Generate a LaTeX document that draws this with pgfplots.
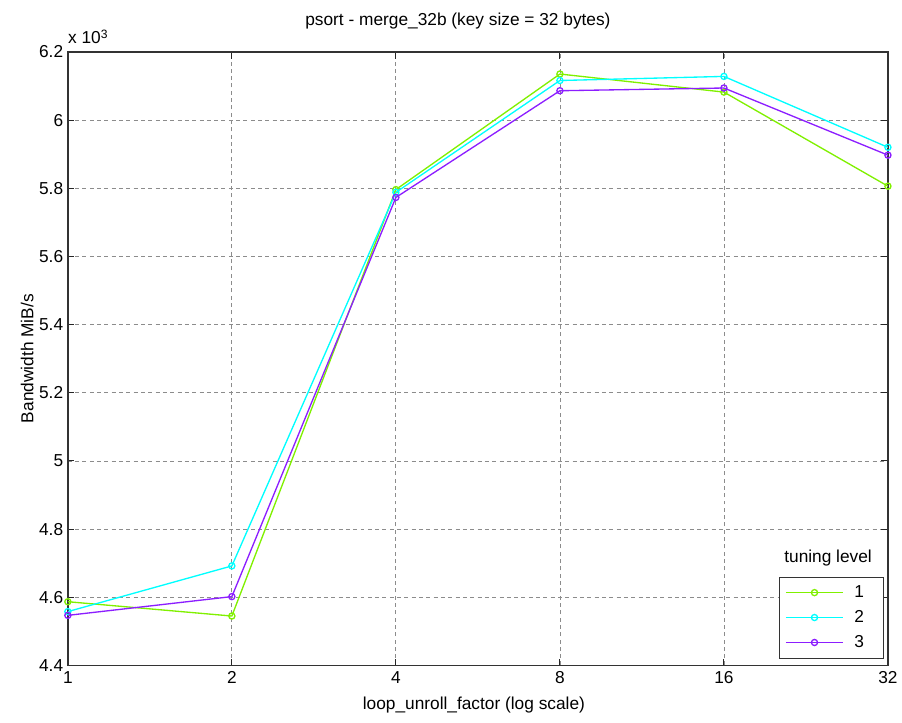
\documentclass[border=0pt]{standalone}
\usepackage{pgfplots}
\pgfplotsset{compat=1.18}
\usepackage{fontspec}
\setmainfont{Liberation Sans}
\definecolor{lgreen}{RGB}{128,240,0}
\definecolor{lcyan}{RGB}{0,255,255}
\definecolor{lpurple}{RGB}{140,30,255}
\newcommand{\fs}{\fontsize{13}{15.6}\selectfont}
\begin{document}
\begin{tikzpicture}
\path (-51pt,-42.75pt) rectangle (625.5pt,500.25pt);
\begin{axis}[
  at={(0,0)}, anchor=south west,
  scale only axis, width=616.5pt, height=461.25pt,
  clip mode=individual,
  xmode=log, log basis x=2, xmin=1, xmax=32,
  xtick={1,2,4,8,16,32}, xticklabels={1,2,4,8,16,32},
  ymin=4400, ymax=6200,
  ytick={4400,4600,4800,5000,5200,5400,5600,5800,6000,6200},
  yticklabels={4.4,4.6,4.8,5,5.2,5.4,5.6,5.8,6,6.2},
  every tick label/.append style={font=\fs},
  xticklabel style={yshift=-1pt},
  grid=major,
  major grid style={gray!90, dash pattern=on 3pt off 2.5pt, line width=0.6pt},
  axis line style={black!80, line width=1pt},
  tick style={black!85, line width=0.8pt},
  major tick length=5pt,
  tick align=inside,
  legend style={at={(rel axis cs:0.995,0.011)}, anchor=south east,
    draw=black!80, line width=0.8pt, font=\fs, row sep=4.2pt, column sep=6pt,
    inner xsep=4.5pt, inner ysep=4.5pt},
  legend cell align=left,
  legend image code/.code={\draw[mark repeat=2,mark phase=2,#1] plot coordinates {(0pt,0pt) (21.5pt,0pt) (43pt,0pt)};},
  every axis plot/.append style={line width=1pt, mark=o, mark size=2.3pt, mark options={solid}},
]
\addplot[color=lgreen] coordinates {(1,4587) (2,4545) (4,5796) (8,6135) (16,6082) (32,5806)};
\addlegendentry{1\hspace*{8pt}}
\addplot[color=lcyan] coordinates {(1,4558) (2,4692) (4,5788) (8,6116) (16,6128) (32,5920)};
\addlegendentry{2\hspace*{8pt}}
\addplot[color=lpurple] coordinates {(1,4547) (2,4602) (4,5773) (8,6086) (16,6094) (32,5897)};
\addlegendentry{3\hspace*{8pt}}
\node[font=\fs, anchor=center] at (rel axis cs:0.927,0.1756) {tuning level};
\node[font=\fs, anchor=base west, inner sep=0pt] at (rel axis cs:0,1) [yshift=6pt] {x 10\textsuperscript{3}};
\node[font=\fs, anchor=base, inner sep=0pt] at (rel axis cs:0.5,1) [yshift=19.5pt, xshift=-15pt] {psort - merge\_32b (key size = 32 bytes)};
\node[font=\fs, anchor=base, inner sep=0pt] at (rel axis cs:0.5,0) [yshift=-33pt, xshift=-3pt] {loop\_unroll\_factor (log scale)};
\node[font=\fs, anchor=base, inner sep=0pt, xshift=-26pt, rotate=90] at (rel axis cs:0,0.5) {Bandwidth MiB/s};
\end{axis}
\end{tikzpicture}
\end{document}
